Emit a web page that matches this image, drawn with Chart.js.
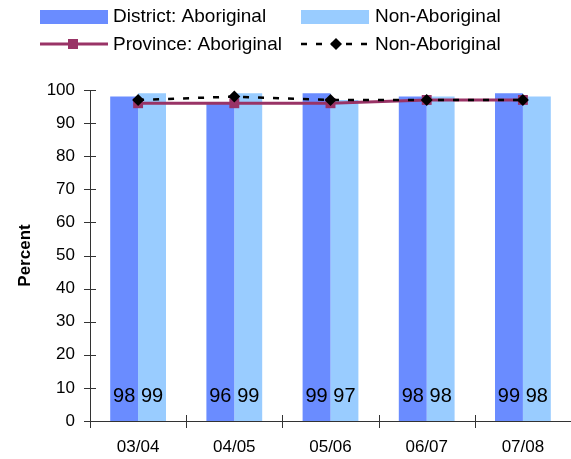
<!DOCTYPE html>
<html>
<head>
<meta charset="utf-8">
<script src="https://cdn.jsdelivr.net/npm/chart.js@4/dist/chart.umd.min.js"></script>
<style>
  html, body { margin: 0; padding: 0; background: #fff; }
  #wrap { position: relative; width: 571px; height: 459px; }
</style>
</head>
<body>
<div id="wrap"><canvas id="chart" width="571" height="459"></canvas></div>
<script>
// values
const years = ['03/04', '04/05', '05/06', '06/07', '07/08'];
const districtAboriginal = [98, 96, 99, 98, 99];
const districtNonAboriginal = [99, 99, 97, 98, 98];
const provinceAboriginal = [96, 96, 96, 97, 97];
const provinceNonAboriginal = [97, 98, 97, 97, 97];

const FONT = '"Liberation Sans", Arial, sans-serif';
const BLUE = '#6A8CFF';
const LIGHT = '#99CCFF';
const PLUM = '#993366';
const AXIS = '#333333';

// numbers near the bottom of each bar
const barLabels = {
  id: 'barLabels',
  afterDatasetsDraw(chart) {
    const ctx = chart.ctx;
    const bottom = chart.chartArea.bottom;
    ctx.save();
    ctx.font = '20px ' + FONT;
    ctx.fillStyle = '#000';
    ctx.textAlign = 'center';
    ctx.textBaseline = 'middle';
    [0, 1].forEach(i => {
      const meta = chart.getDatasetMeta(i);
      meta.data.forEach((bar, j) => {
        ctx.fillText(String(chart.data.datasets[i].data[j]), bar.x, bottom - 25);
      });
    });
    ctx.restore();
  }
};

// tick marks that cross the axes, like the original
const crossTicks = {
  id: 'crossTicks',
  afterDraw(chart) {
    const ctx = chart.ctx;
    const { left, right, bottom } = chart.chartArea;
    const y = chart.scales.y;
    ctx.save();
    ctx.strokeStyle = AXIS;
    ctx.lineWidth = 1;
    ctx.beginPath();
    y.ticks.forEach(t => {
      const py = Math.round(y.getPixelForValue(t.value)) + 0.5;
      ctx.moveTo(left - 6, py);
      ctx.lineTo(left + 6, py);
    });
    const step = (right - left) / years.length;
    for (let k = 0; k < years.length; k++) {
      const px = Math.round(left + k * step) + 0.5;
      ctx.moveTo(px, bottom - 6);
      ctx.lineTo(px, bottom + 7);
    }
    ctx.stroke();
    ctx.restore();
  }
};

// two-column legend at the top
const topLegend = {
  id: 'topLegend',
  afterDraw(chart) {
    const ctx = chart.ctx;
    ctx.save();
    ctx.font = '19px ' + FONT;
    ctx.textBaseline = 'middle';

    ctx.fillStyle = BLUE;
    ctx.fillRect(40, 10, 68, 14);
    ctx.fillStyle = LIGHT;
    ctx.fillRect(301, 10, 68, 14);

    ctx.fillStyle = '#000';
    ctx.fillText('District: Aboriginal', 113, 17);
    ctx.fillText('Non-Aboriginal', 375, 17);
    ctx.fillText('Province: Aboriginal', 113, 45);
    ctx.fillText('Non-Aboriginal', 375, 45);

    ctx.strokeStyle = PLUM;
    ctx.lineWidth = 3;
    ctx.beginPath();
    ctx.moveTo(40, 44);
    ctx.lineTo(108, 44);
    ctx.stroke();
    ctx.fillStyle = PLUM;
    ctx.fillRect(68, 39, 10, 10);

    ctx.strokeStyle = '#000';
    ctx.lineWidth = 2.5;
    ctx.setLineDash([6, 9]);
    ctx.beginPath();
    ctx.moveTo(301, 44);
    ctx.lineTo(371, 44);
    ctx.stroke();
    ctx.setLineDash([]);
    ctx.fillStyle = '#000';
    ctx.beginPath();
    ctx.moveTo(336, 38);
    ctx.lineTo(342, 44);
    ctx.lineTo(336, 50);
    ctx.lineTo(330, 44);
    ctx.closePath();
    ctx.fill();
    ctx.restore();
  }
};

new Chart(document.getElementById('chart'), {
  type: 'bar',
  data: {
    labels: years,
    datasets: [
      {
        label: 'District: Aboriginal',
        data: districtAboriginal,
        backgroundColor: BLUE,
        barPercentage: 1,
        categoryPercentage: 0.58,
        order: 3
      },
      {
        label: 'District: Non-Aboriginal',
        data: districtNonAboriginal,
        backgroundColor: LIGHT,
        barPercentage: 1,
        categoryPercentage: 0.58,
        order: 3
      },
      {
        type: 'line',
        label: 'Province: Aboriginal',
        data: provinceAboriginal,
        borderColor: PLUM,
        backgroundColor: PLUM,
        borderWidth: 3,
        pointStyle: 'rect',
        pointRadius: 7,
        pointBorderWidth: 0,
        tension: 0,
        order: 2
      },
      {
        type: 'line',
        label: 'Province: Non-Aboriginal',
        data: provinceNonAboriginal,
        borderColor: '#000',
        backgroundColor: '#000',
        borderWidth: 2.5,
        borderDash: [6, 9],
        pointStyle: 'rectRot',
        pointRadius: 6,
        pointBorderWidth: 0,
        tension: 0,
        order: 1
      }
    ]
  },
  options: {
    responsive: false,
    animation: false,
    layout: { autoPadding: false, padding: { top: 90, right: 0, bottom: 0, left: 0 } },
    plugins: {
      legend: { display: false },
      tooltip: { enabled: false }
    },
    scales: {
      x: {
        grid: { display: false, drawTicks: false },
        border: { display: true, color: AXIS, width: 1 },
        ticks: { color: '#000', font: { family: FONT, size: 17 }, padding: 16 },
        afterFit(scale) { scale.height = 38; }
      },
      y: {
        min: 0,
        max: 100,
        ticks: { stepSize: 10, color: '#000', font: { family: FONT, size: 17 }, padding: 15 },
        grid: { display: false, drawTicks: false },
        border: { display: true, color: AXIS, width: 1 },
        title: {
          display: true,
          text: 'Percent',
          color: '#000',
          font: { family: FONT, size: 17, weight: 'bold' },
          padding: { top: 15, bottom: 0 }
        },
        afterFit(scale) { scale.width = 90; }
      }
    }
  },
  plugins: [barLabels, crossTicks, topLegend]
});
</script>
</body>
</html>
